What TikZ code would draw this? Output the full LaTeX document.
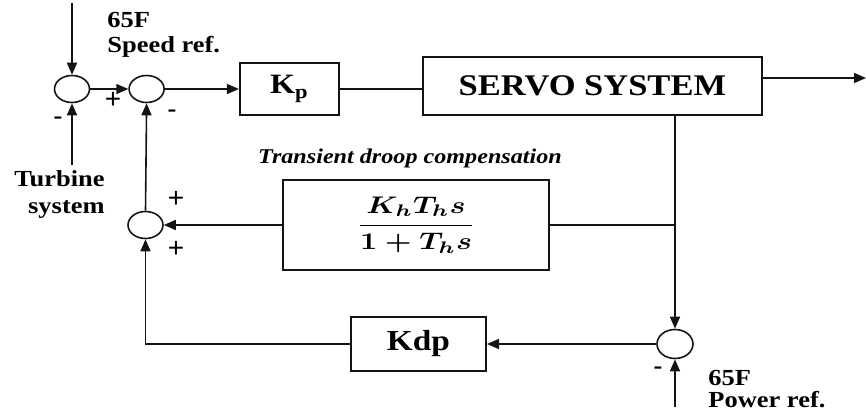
\documentclass[tikz,border=0pt]{standalone}
\usepackage{amsmath,bm}
\usepackage{fontspec}
\setmainfont{Liberation Serif}[FakeStretch=1.15]
\newfontfamily\signfont{Liberation Sans}
\usepackage{tikz}
\usetikzlibrary{arrows.meta, positioning, shapes.geometric, calc}
\definecolor{colLine}{RGB}{20,20,20}
\tikzset{
  block/.style={
    draw=colLine, rectangle, line width=1pt, inner sep=0pt,
    font=\bfseries, align=center
  },
  sumpt/.style={
    draw=colLine, ellipse, line width=0.8pt, inner sep=0pt,
    minimum width=17.5pt, minimum height=13.5pt
  },
  sig/.style={
    draw=colLine, -{Triangle[length=6pt,width=5pt]}, line width=0.8pt
  },
  wire/.style={
    draw=colLine, line width=0.8pt
  },
  reflabel/.style={
    font=\bfseries\fontsize{11.5}{11.5}\selectfont, inner sep=0pt
  },
  sign/.style={
    font=\signfont\fontsize{14}{14}\selectfont, inner sep=0pt
  },
}

\begin{document}
\begin{tikzpicture}[x=0.5pt, y=-0.5pt]
\useasboundingbox (0,0) rectangle (866,416);

% ── Nodes ──────────────────────────────────────────────────────────────────
% Forward path
\node[sumpt] (sum1) at (72,89) {};
\node[sumpt, right=19pt of sum1] (sum2) {};
\node[block, right=37pt of sum2, minimum width=49.5pt, minimum height=26pt] (kp)
  {\fontsize{14}{14}\selectfont K\textsubscript{p}};
\node[block, right=41pt of kp, yshift=1.5pt, minimum width=169.5pt, minimum height=29pt] (servo)
  {\fontsize{15}{15}\selectfont SERVO SYSTEM};

% Feedback path
\node[block, minimum width=133pt, minimum height=45pt] (droop) at (416,225)
  {\scalebox{1.5}[1.2]{$\displaystyle\bm{\frac{K_hT_hs}{1+T_hs}}$}};
\node[sumpt] (sum4) at (145.5,225) {};
\node[sumpt, minimum width=18pt, minimum height=14.5pt] (sum3) at (675,344) {};
\node[block, minimum width=67.5pt, minimum height=26.5pt] (kdp) at (418.5,344)
  {\fontsize{14.5}{14.5}\selectfont Kdp};

% Labels
\node[reflabel, anchor=north west, align=left] (speedref) at (107,12)
  {65F\\[1pt]Speed ref.};
\node[reflabel, anchor=north east, align=right] (turbine) at (105,170)
  {Turbine\\[2pt]system};
\node[reflabel, anchor=north west, align=left] (powerref) at (708,370)
  {65F\\[-0.5pt]Power ref.};
\node[font=\bfseries\itshape\fontsize{10.5}{10.5}\selectfont] (droopname) at (410,158)
  {Transient droop compensation};

% Signs
\node[sign] (p1) at (113,100) {+};
\node[sign] (m1) at (58,121) {-};
\node[sign] (m2) at (172,114) {-};
\node[sign] (p2) at (176,199) {+};
\node[sign] (p3) at (176,249) {+};
\node[sign] (m3) at (658,371) {-};

% Free ends
\coordinate (spdin) at (72,3);
\coordinate (turbin) at (72,165);
\coordinate (pwrin) at (675,407);
\coordinate (out) at (866,78);

% ── Forward flows ───────────────────────────────────────────────────────────
\draw[sig] (spdin) -- (sum1.north);
\draw[sig] (turbin) -- (sum1.south);
\draw[sig] (sum1.east) -- (sum2.west);
\draw[sig] (sum2.east) -- (kp.west);
\draw[wire] (kp.east) -- (kp.east -| servo.west);
\draw[sig] (servo.east |- out) -- (out);

% ── Feedback flows ──────────────────────────────────────────────────────────
\draw[sig] (servo.south -| sum3) -- (sum3.north);
\draw[wire] (droop.east) -- (droop.east -| sum3);
\draw[sig] (droop.west) -- (sum4.east);
\draw[sig] (sum4.north) -- (sum2.south);
\draw[sig] (pwrin) -- (sum3.south);
\draw[sig] (sum3.west) -- (kdp.east);
\draw[sig] (kdp.west) -| (sum4.south);

\end{tikzpicture}
\end{document}
